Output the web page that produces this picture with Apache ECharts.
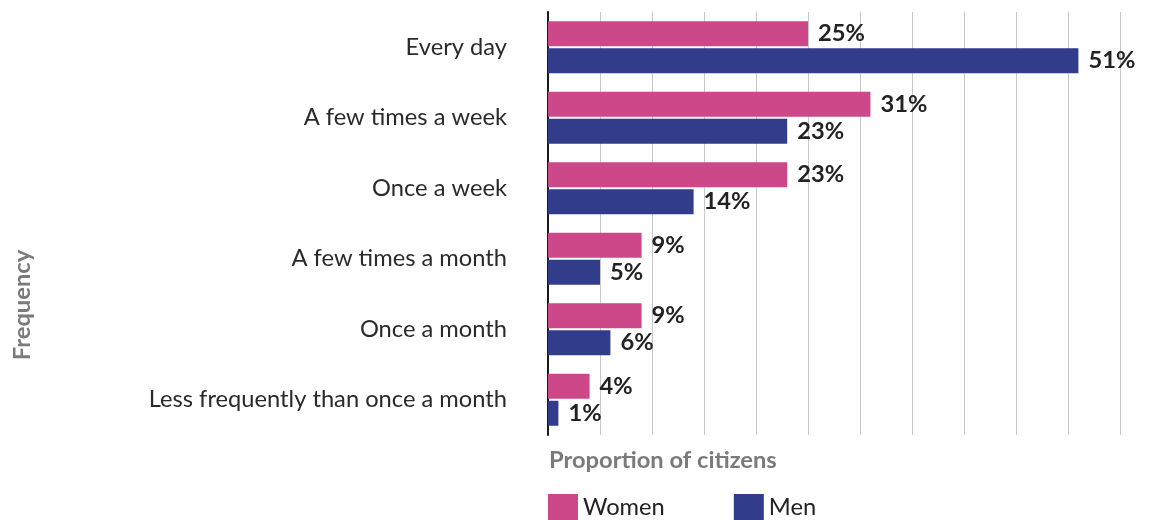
<!DOCTYPE html>
<html>
<head>
<meta charset="utf-8">
<script src="https://cdn.jsdelivr.net/npm/echarts@6/dist/echarts.min.js"></script>
<style>
  html, body { margin: 0; padding: 0; background: #fff; }
  #chart { width: 1168px; height: 520px; }
</style>
</head>
<body>
<div id="chart"></div>
<script>
// Frequency categories, listed top to bottom
const categories = [
  'Every day',
  'A few times a week',
  'Once a week',
  'A few times a month',
  'Once a month',
  'Less frequently than once a month'
];
// Share of citizens (%) by frequency
const women = [25, 31, 23, 9, 9, 4];
const men = [51, 23, 14, 5, 6, 1];

const FONT = 'Lato, "Open Sans", sans-serif';
const PINK = '#cc4888';
const NAVY = '#313d8b';
const FS = 23.7;

const chart = echarts.init(document.getElementById('chart'), null, { renderer: 'canvas' });

const labelStyle = {
  show: true,
  position: 'right',
  distance: 10,
  formatter: '{c}%',
  fontFamily: FONT,
  fontWeight: 'bold',
  fontSize: FS,
  color: '#222',
  padding: [4, 0, 0, 0]
};

chart.setOption({
  animation: false,
  backgroundColor: '#fff',
  grid: { left: 548, right: 48, top: 12, bottom: 85, containLabel: false },
  xAxis: {
    type: 'value',
    min: 0,
    max: 55,
    interval: 5,
    axisLine: { show: false },
    axisTick: { show: false },
    axisLabel: { show: false },
    splitLine: { show: true, lineStyle: { color: '#c8c8c8', width: 1 } }
  },
  yAxis: {
    type: 'category',
    data: categories,
    inverse: true,
    axisLine: { show: true, lineStyle: { color: '#1a1a1a', width: 2 } },
    axisTick: { show: false },
    axisLabel: {
      margin: 41,
      fontFamily: FONT,
      fontSize: FS,
      color: '#2a2a2a'
    }
  },
  legend: {
    left: 543,
    top: 489,
    itemWidth: 30,
    itemHeight: 27,
    itemGap: 69,
    icon: 'rect',
    textStyle: { fontFamily: FONT, fontSize: FS, color: '#222', padding: [4, 0, 0, 0] },
    data: ['Women', 'Men']
  },
  graphic: [
    {
      type: 'text',
      left: 549,
      top: 448,
      style: {
        text: 'Proportion of citizens',
        font: 'bold ' + FS + 'px ' + FONT,
        fill: '#7a7a7a'
      }
    },
    {
      type: 'text',
      x: 22,
      y: 305,
      rotation: Math.PI / 2,
      style: {
        text: 'Frequency',
        font: 'bold ' + FS + 'px ' + FONT,
        fill: '#7a7a7a',
        align: 'center',
        verticalAlign: 'middle'
      }
    }
  ],
  series: [
    {
      name: 'Women',
      type: 'bar',
      data: women,
      barWidth: 25,
      barGap: '8%',
      itemStyle: { color: PINK },
      label: labelStyle
    },
    {
      name: 'Men',
      type: 'bar',
      data: men,
      barWidth: 25,
      barGap: '8%',
      itemStyle: { color: NAVY },
      label: labelStyle
    }
  ]
});
</script>
</body>
</html>
